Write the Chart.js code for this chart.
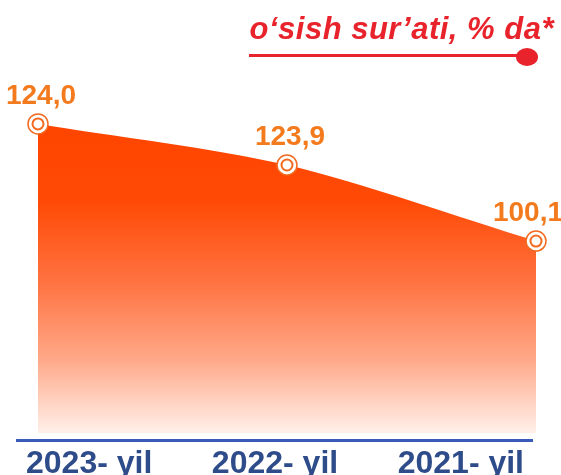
<!DOCTYPE html>
<html>
<head>
<meta charset="utf-8">
<script src="https://cdn.jsdelivr.net/npm/chart.js@4"></script>
<style>
  html, body { margin: 0; padding: 0; background: #fff; }
  #wrap { width: 561px; height: 475px; }
</style>
</head>
<body>
<div id="wrap"><canvas id="chart-area"></canvas></div>
<script>
// categories and values
const years = ["2023- yil", "2022- yil", "2021- yil"];
const growth = [124.0, 123.9, 100.1];          // printed labels
const curveLevel = [124, 107.5, 77];           // height of the curve as drawn in the picture
const legendLabel = "o‘sish sur’ati, % da*";

const orange = "#f26a1f";
const labelOrange = "#f47a1e";
const red = "#e8232b";

// custom drawing: value labels, base line and legend line
const decorPlugin = {
    id: "decor",
    afterDatasetsDraw(chart) {
        const ctx = chart.ctx;
        const meta = chart.getDatasetMeta(1);
        const area = chart.chartArea;
        ctx.save();
        // base line under the area
        ctx.strokeStyle = "#3a5bb8";
        ctx.lineWidth = 3;
        ctx.beginPath();
        ctx.moveTo(area.left - 22, area.bottom + 7.5);
        ctx.lineTo(area.right - 3, area.bottom + 7.5);
        ctx.stroke();

        ctx.font = "bold 28px 'Liberation Sans', Arial, sans-serif";
        ctx.fillStyle = labelOrange;
        ctx.textAlign = "center";
        ctx.textBaseline = "alphabetic";
        meta.data.forEach((pt, i) => {
            const txt = growth[i].toFixed(1).replace(".", ",");
            const w = ctx.measureText(txt).width;
            const x = Math.min(pt.x + 3, chart.width + 2 - w / 2);
            ctx.fillText(txt, x, pt.y - 20);
        });
        ctx.restore();
    },
    afterDraw(chart) {
        const ctx = chart.ctx;
        ctx.save();
        ctx.font = "italic bold 31px 'Liberation Sans', Arial, sans-serif";
        ctx.fillStyle = red;
        ctx.textAlign = "right";
        ctx.textBaseline = "alphabetic";
        if ("letterSpacing" in ctx) ctx.letterSpacing = "0.5px";
        ctx.fillText(legendLabel, 554, 39);
        ctx.strokeStyle = red;
        ctx.lineWidth = 3;
        ctx.beginPath();
        ctx.moveTo(249, 55.5);
        ctx.lineTo(520, 55.5);
        ctx.stroke();
        ctx.fillStyle = red;
        ctx.beginPath();
        ctx.ellipse(527, 57, 11, 9, 0, 0, Math.PI * 2);
        ctx.fill();
        ctx.restore();
    }
};

function areaGradient(context) {
    const area = context.chart.chartArea;
    if (!area) return orange;
    const g = context.chart.ctx.createLinearGradient(0, area.top + 40, 0, area.bottom);
    g.addColorStop(0, "#ff4500");
    g.addColorStop(0.25, "#ff4a05");
    g.addColorStop(0.52, "#ff7443");
    g.addColorStop(0.76, "#ffa888");
    g.addColorStop(1, "#fff0ea");
    return g;
}

new Chart(document.getElementById("chart-area"), {
    type: "line",
    data: {
        labels: years,
        datasets: [{
            // inner ring of the markers
            data: curveLevel,
            showLine: false,
            fill: false,
            pointRadius: 5.5,
            pointBackgroundColor: "#fff",
            pointBorderColor: orange,
            pointBorderWidth: 2
        }, {
            data: curveLevel,
            fill: "origin",
            backgroundColor: areaGradient,
            borderWidth: 0,
            borderColor: "rgba(0,0,0,0)",
            tension: 0.3,
            pointRadius: 10,
            pointBackgroundColor: "#fff",
            pointBorderColor: orange,
            pointBorderWidth: 1.5
        }]
    },
    options: {
        responsive: true,
        maintainAspectRatio: false,
        animation: false,
        layout: {
            padding: { top: 84, left: 38, right: 25, bottom: 0 }
        },
        plugins: {
            legend: { display: false },
            tooltip: { enabled: false }
        },
        scales: {
            y: {
                display: false,
                min: 0,
                max: 140
            },
            x: {
                grid: { display: false, drawTicks: false },
                border: { display: false },
                afterFit(scale) {
                    scale.height = 42;
                },
                ticks: {
                    align: "inner",
                    labelOffset: -12,
                    padding: 18,
                    color: "#2e4b8a",
                    font: { family: "'Liberation Sans', Arial, sans-serif", size: 32, weight: "bold", lineHeight: 0.8 }
                }
            }
        }
    },
    plugins: [decorPlugin]
});
</script>
</body>
</html>
